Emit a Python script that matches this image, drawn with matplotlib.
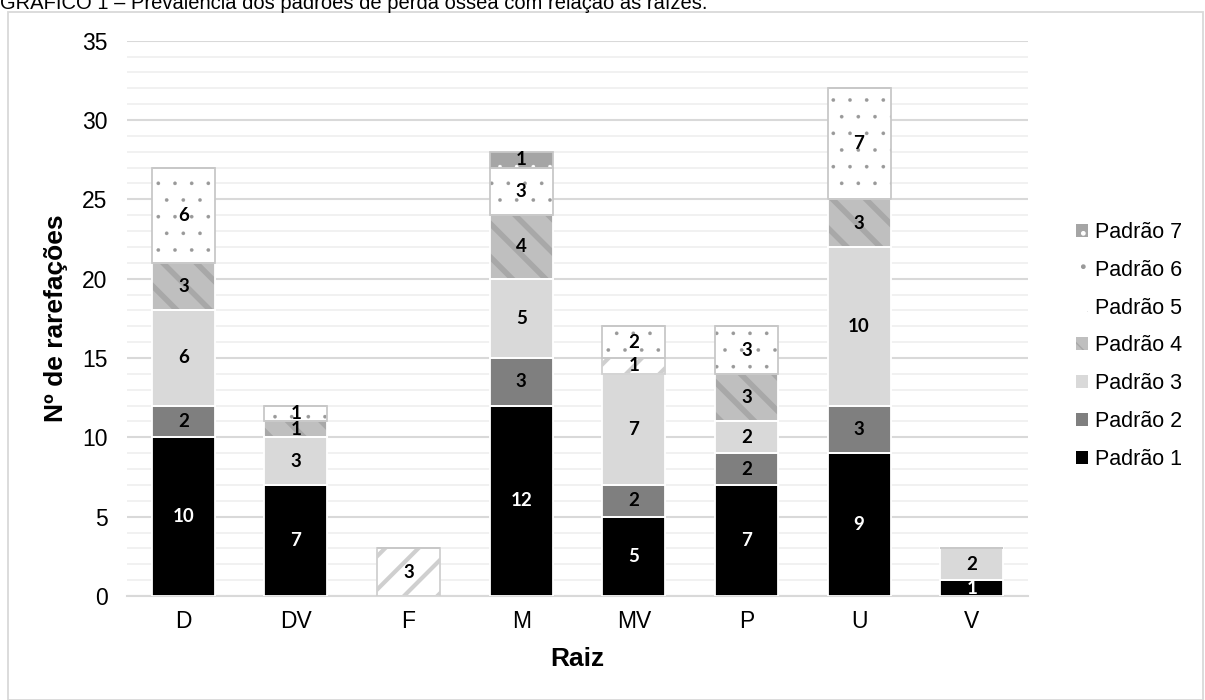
import matplotlib as mpl
import matplotlib.pyplot as plt
from matplotlib.patches import Rectangle, Patch
import numpy as np

plt.rcParams['font.family'] = ['Liberation Sans', 'DejaVu Sans']

raizes = ['D', 'DV', 'F', 'M', 'MV', 'P', 'U', 'V']
padrao1 = [10, 7, 0, 12, 5, 7, 9, 1]
padrao2 = [2, 0, 0, 3, 2, 2, 3, 0]
padrao3 = [6, 3, 0, 5, 7, 2, 10, 2]
padrao4 = [3, 1, 0, 4, 0, 3, 3, 0]
padrao5 = [0, 0, 3, 0, 1, 0, 0, 0]
padrao6 = [6, 1, 0, 3, 2, 3, 7, 0]
padrao7 = [0, 0, 0, 1, 0, 0, 0, 0]

series = [padrao1, padrao2, padrao3, padrao4, padrao5, padrao6, padrao7]
nomes = ['Padrão %d' % i for i in range(1, 8)]
# face, hatch colour, hatch, hatch width, border, label colour
estilos = [
    ('#000000', '#000000', None, 1.0, 'white', 'white'),
    ('#7f7f7f', '#7f7f7f', None, 1.0, 'white', 'black'),
    ('#d9d9d9', '#d9d9d9', None, 1.0, 'white', 'black'),
    ('#bfbfbf', '#a8a8a8', '\\', 4.0, 'white', 'black'),
    ('#ffffff', '#cfcfcf', '/', 3.0, '#d0d0d0', 'black'),
    ('#ffffff', '#999999', '.', 0.2, '#c8c8c8', 'black'),
    ('#a5a5a5', '#ffffff', '.', 0.2, '#c8c8c8', 'black'),
]


def set_hw(artists, hw):
    for a in artists:
        if hasattr(a, 'set_hatch_linewidth'):
            a.set_hatch_linewidth(hw)


fig = plt.figure(figsize=(12.05, 7), dpi=100)
ax = fig.add_axes([0.1054, 0.1486, 0.7477, 0.7933])

x = np.arange(len(raizes))
w = 0.56
base = np.zeros(len(raizes))
for vals, (fc, hc, h, hw, bc, tc) in zip(series, estilos):
    vals = np.array(vals, dtype=float)
    with mpl.rc_context({'hatch.linewidth': hw}):
        bars = ax.bar(x, vals, w, bottom=base, color=fc, edgecolor=hc, hatch=h,
                      linewidth=0, zorder=3)
    set_hw(bars, hw)
    ax.bar(x, vals, w, bottom=base, fill=False, edgecolor=bc, linewidth=1.3, zorder=4)
    for xi, v, b in zip(x, vals, base):
        if v > 0:
            ax.text(xi, b + v / 2, '%d' % v, ha='center', va='center', fontsize=13.5,
                    fontweight='bold', color=tc, family=['Lato', 'DejaVu Sans'], zorder=5)
    base += vals

ax.set_ylim(0, 35)
ax.set_xlim(-0.5, len(raizes) - 0.5)
ax.set_yticks(range(0, 36, 5))
ax.set_yticks(range(0, 36, 1), minor=True)
ax.grid(axis='y', which='major', color='#d9d9d9', linewidth=1.5, zorder=0)
ax.grid(axis='y', which='minor', color='#f0f0f0', linewidth=1.3, zorder=0)
ax.set_xticks(x)
ax.set_xticklabels(raizes)
ax.tick_params(axis='both', which='both', length=0, labelsize=16.5, colors='#000000')
ax.tick_params(axis='y', pad=14)
ax.tick_params(axis='x', pad=10)
for s in ['top', 'right', 'left']:
    ax.spines[s].set_visible(False)
ax.spines['bottom'].set_color('#d9d9d9')
ax.spines['bottom'].set_linewidth(1.5)
ax.set_xlabel('Raiz', fontsize=19, fontweight='bold', labelpad=10)
ax.set_ylabel('Nº de rarefações', fontsize=19, fontweight='bold', labelpad=10)

handles = []
for fc, hc, h, hw, bc, tc in estilos:
    handles.append(Patch(facecolor=fc, edgecolor=hc, hatch=h, linewidth=0))
leg = fig.legend(handles[::-1], nomes[::-1], loc='center left', bbox_to_anchor=(0.893, 0.506),
                 frameon=False, fontsize=15.5, handlelength=0.55, handleheight=0.55,
                 handletextpad=0.35, labelspacing=0.78, borderaxespad=0, borderpad=0)

fig.patches.append(Rectangle((8 / 1205, 0), 1195 / 1205, 688 / 700, transform=fig.transFigure,
                             fill=False, edgecolor='#d9d9d9', linewidth=1.3))
fig.text(0.0, 0.997, 'GRÁFICO 1 – Prevalência dos padrões de perda óssea com relação às raízes.',
         fontsize=14.5, ha='left', va='center', color='#000000')

fig.savefig('out.png', dpi=100)
